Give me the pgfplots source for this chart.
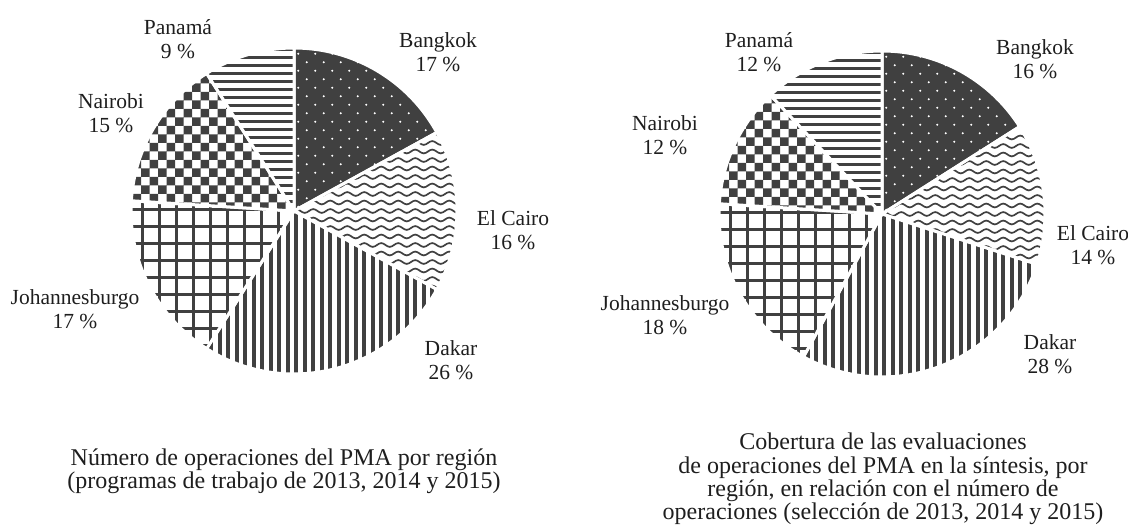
\documentclass[border=0pt]{standalone}
\usepackage{fontspec}
\setmainfont{Liberation Serif}
\usepackage{pgfplots}
\usepackage{pgfplotstable}
\pgfplotsset{compat=1.18}
\definecolor{dark}{RGB}{64,64,64}
\definecolor{txt}{RGB}{30,30,30}

\tikzset{
  lbl/.style={align=center, text=txt, font=\fontsize{21.5bp}{23.5bp}\selectfont},
  captxt/.style={align=center, text=txt, font=\fontsize{24bp}{23.3bp}\selectfont},
}

% ---------- data (percent of each region, clockwise from 12 o'clock) ----------
\pgfplotstableread{
region pct
Bangkok 17
ElCairo 16
Dakar 26
Johannesburgo 17
Nairobi 15
Panama 9
}\dataA
\pgfplotstableread{
region pct
Bangkok 16
ElCairo 14
Dakar 28
Johannesburgo 18
Nairobi 12
Panama 12
}\dataB

\newcommand\computeangles[2]{%
  \xdef\cumangle{90}%
  \pgfplotsforeachungrouped \i in {0,...,5}{%
    \pgfplotstablegetelem{\i}{pct}\of#1%
    \pgfmathsetmacro\endang{\cumangle-3.6*\pgfplotsretval}%
    \expandafter\xdef\csname s#2\i\endcsname{\cumangle}%
    \expandafter\xdef\csname e#2\i\endcsname{\endang}%
    \xdef\cumangle{\endang}%
  }%
}
\computeangles{\dataA}{A}
\computeangles{\dataB}{B}

% ---------- hatch fillings (drawn inside a clipped slice; 1 axis unit = 1bp) ----------
\newcommand\patdots{%
  \fill[dark] (axis cs:-5,-5) rectangle (axis cs:175,175);
  \pgfplotsinvokeforeach{0,...,10}{%
    \fill[white, shift={(0bp,##1*17bp)}] (axis cs:0,0) ++(4.25bp,4.25bp)
      foreach \k in {0,...,10}{ circle[radius=1.1bp] ++(8.5bp,8.5bp) circle[radius=1.1bp] ++(8.5bp,-8.5bp) };}}
\def\wavepiece{sin ++(4.25bp,1.9bp) cos ++(4.25bp,-1.9bp) sin ++(4.25bp,-1.9bp) cos ++(4.25bp,1.9bp) }
\newcommand\patwave{%
  \pgfplotsinvokeforeach{-12,...,12}{%
    \draw[dark, line width=1.7bp, shift={(0bp,##1*8.5bp)}] (axis cs:-2,0)
      \wavepiece\wavepiece\wavepiece\wavepiece\wavepiece\wavepiece
      \wavepiece\wavepiece\wavepiece\wavepiece\wavepiece;}}
\newcommand\patvlines{%
  \pgfplotsinvokeforeach{-13,...,20}{%
    \fill[dark, shift={(##1*8.5bp,0bp)}] (axis cs:0,-170) rectangle ++(4.1bp,175bp);}}
\newcommand\patgrid{%
  \pgfplotsinvokeforeach{-10,...,0}{%
    \fill[dark, shift={(##1*17bp,0bp)}] (axis cs:0,-170) rectangle ++(2.6bp,195bp);}
  \pgfplotsinvokeforeach{-10,...,1}{%
    \fill[dark, shift={(0bp,##1*17bp)}] (axis cs:-170,0) rectangle ++(175bp,2.6bp);}}
\newcommand\patcheck{%
  \pgfplotsinvokeforeach{-1,...,9}{%
    \fill[dark, shift={(0bp,##1*17bp)}] (axis cs:-170,0)
      foreach \k in {0,...,10}{ rectangle ++(8.5bp,8.5bp) rectangle ++(8.5bp,8.5bp) ++(0bp,-17bp) };}}
\newcommand\pathlines{%
  \pgfplotsinvokeforeach{0,...,21}{%
    \fill[dark, shift={(0bp,##1*8bp)}] (axis cs:-170,0) rectangle ++(172bp,3bp);}}

% slice #1 = chart letter, #2 = slice index, #3 = filling
\newcommand\pieslice[3]{%
  \begin{scope}
    \clip (axis cs:0,0) -- ++(\csname s#1#2\endcsname:163bp)
      arc[start angle=\csname s#1#2\endcsname, end angle=\csname e#1#2\endcsname, radius=163bp] -- cycle;
    #3
  \end{scope}
  \draw[white, line width=3bp, line join=round] (axis cs:0,0) -- ++(\csname s#1#2\endcsname:163bp)
      arc[start angle=\csname s#1#2\endcsname, end angle=\csname e#1#2\endcsname, radius=163bp] -- cycle;
}
\newcommand\fullpie[1]{%
  \pieslice{#1}{0}{\patdots}%
  \pieslice{#1}{1}{\patwave}%
  \pieslice{#1}{2}{\patvlines}%
  \pieslice{#1}{3}{\patgrid}%
  \pieslice{#1}{4}{\patcheck}%
  \pieslice{#1}{5}{\pathlines}%
}

\pgfplotsset{pieaxis/.style={hide axis, x=1bp, y=1bp,
  xmin=-180, xmax=180, ymin=-180, ymax=180, clip=false, anchor=center}}

\begin{document}
\begin{tikzpicture}
\useasboundingbox (0bp,0bp) rectangle (1128bp,530bp);

\begin{axis}[pieaxis, at={(294bp,319bp)}]
\fullpie{A}
\node[lbl] at (axis cs:144,159) {Bangkok\\17 \%};
\node[lbl] at (axis cs:219,-19) {El Cairo\\16 \%};
\node[lbl] at (axis cs:157,-149) {Dakar\\26 \%};
\node[lbl] at (axis cs:-219,-98) {Johannesburgo\\17 \%};
\node[lbl] at (axis cs:-183,98) {Nairobi\\15 \%};
\node[lbl] at (axis cs:-116,172) {Panamá\\9 \%};
\end{axis}

\begin{axis}[pieaxis, at={(882bp,316bp)}]
\fullpie{B}
\node[lbl] at (axis cs:153,155) {Bangkok\\16 \%};
\node[lbl] at (axis cs:211,-31) {El Cairo\\14 \%};
\node[lbl] at (axis cs:168,-140) {Dakar\\28 \%};
\node[lbl] at (axis cs:-217,-101) {Johannesburgo\\18 \%};
\node[lbl] at (axis cs:-217,79) {Nairobi\\12 \%};
\node[lbl] at (axis cs:-123,162) {Panamá\\12 \%};
\end{axis}

\node[captxt] at (284bp,59bp) {Número de operaciones del PMA por región\\(programas de trabajo de 2013, 2014 y 2015)};
\node[captxt] at (883bp,51bp) {Cobertura de las evaluaciones\\de operaciones del PMA en la síntesis, por\\región, en relación con el número de\\operaciones (selección de 2013, 2014 y 2015)};
\end{tikzpicture}
\end{document}
